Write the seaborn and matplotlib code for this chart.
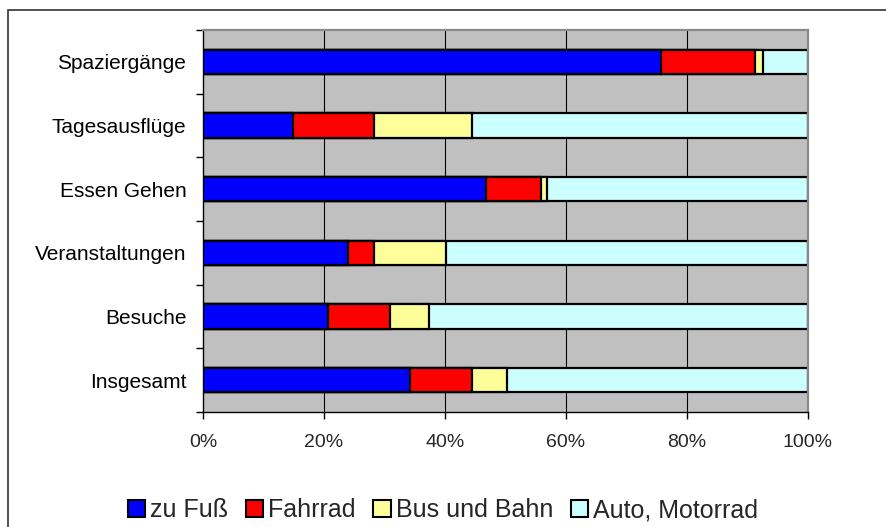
import matplotlib
matplotlib.use("Agg")
import matplotlib.pyplot as plt
from matplotlib.patches import Patch, Rectangle
import seaborn as sns
import numpy as np
import pandas as pd

# Data (percent shares per activity)
activities = ["Spaziergänge", "Tagesausflüge", "Essen Gehen",
              "Veranstaltungen", "Besuche", "Insgesamt"]
modes = ["zu Fuß", "Fahrrad", "Bus und Bahn", "Auto, Motorrad"]
zu_fuss = [75.7, 14.8, 46.8, 23.9, 20.7, 34.2]
fahrrad = [15.6, 13.5, 9.0, 4.3, 10.2, 10.3]
bus_bahn = [1.2, 16.2, 1.1, 12.0, 6.4, 5.8]
auto = [7.5, 55.5, 43.1, 59.8, 62.7, 49.7]
x_ticks = [0, 20, 40, 60, 80, 100]

colors = ["#0000FF", "#FF0000", "#FFFF99", "#CCFFFF"]

sns.set_theme(style="white")
plt.rcParams["font.family"] = ["Liberation Sans", "DejaVu Sans"]

df = pd.DataFrame({"Aktivität": activities, "zu Fuß": zu_fuss,
                   "Fahrrad": fahrrad, "Bus und Bahn": bus_bahn,
                   "Auto, Motorrad": auto})
# cumulative sums so that the stacked bars can be drawn back to front
cum = df[modes].cumsum(axis=1)
cum.insert(0, "Aktivität", df["Aktivität"])

fig = plt.figure(figsize=(8.86, 5.27), dpi=100)
ax = fig.add_axes([0.2291, 0.2182, 0.6828, 0.7249])
ax.set_facecolor("#C0C0C0")

# vertical grid lines
for t in x_ticks[1:-1]:
    ax.axvline(t, color="black", linewidth=0.8, zorder=0)

for mode, color in reversed(list(zip(modes, colors))):
    sns.barplot(data=cum, x=mode, y="Aktivität", orient="h", color=color,
                saturation=1, edgecolor="black", linewidth=1.6, width=0.38,
                errorbar=None, ax=ax, zorder=2)

ax.set_xlim(0, 100)
ax.set_ylim(len(activities) - 0.5, -0.5)
ax.set_xticks(x_ticks)
ax.set_xticklabels([f"{t}%" for t in x_ticks], fontsize=14)
ax.set_yticks(range(len(activities)))
ax.set_yticklabels(activities, fontsize=15)
ax.set_yticks(np.arange(-0.5, len(activities)), minor=True)
ax.set_xlabel("")
ax.set_ylabel("")

ax.tick_params(axis="y", which="major", length=0, pad=12, colors="black")
ax.tick_params(axis="y", which="minor", left=True, length=5, width=1, color="black")
ax.tick_params(axis="x", which="major", bottom=True, length=5, width=1,
               color="black", pad=11)

for side in ["left", "bottom"]:
    ax.spines[side].set_color("black")
    ax.spines[side].set_linewidth(1)
for side in ["top", "right"]:
    ax.spines[side].set_color("#8A8A8A")
    ax.spines[side].set_linewidth(1.6)

# legend below the plot
handles = [Patch(facecolor=c, edgecolor="black", linewidth=1.5, label=m)
           for m, c in zip(modes, colors)]
fig.legend(handles=handles, loc="center", bbox_to_anchor=(0.5, 0.032),
           ncol=4, frameon=False, fontsize=18, handlelength=0.7,
           handleheight=0.7, handletextpad=0.2, columnspacing=0.7,
           borderpad=0)

# outer chart frame (runs off the right and bottom edges)
fig.add_artist(Rectangle((8 / 886, -0.2), 1.2, 1.2 - 10 / 527,
                         transform=fig.transFigure, fill=False,
                         edgecolor="#333333", linewidth=1.2))

fig.savefig("out.png", dpi=100)
